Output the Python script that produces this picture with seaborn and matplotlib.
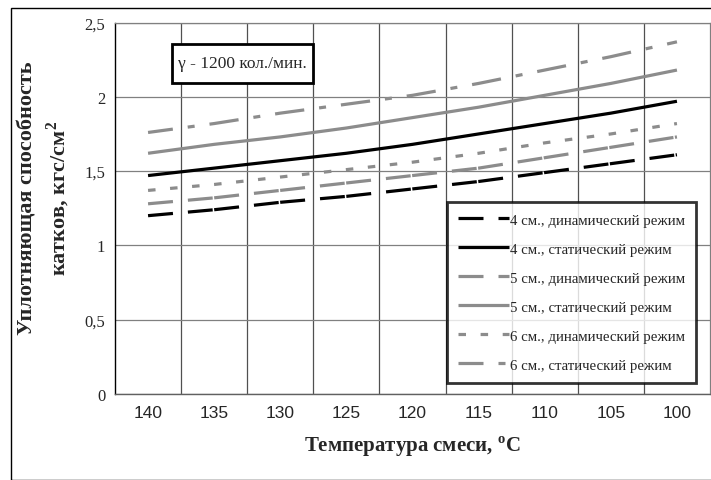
import numpy as np
import pandas as pd
import matplotlib
matplotlib.use("Agg")
import matplotlib.pyplot as plt
import seaborn as sns
from matplotlib.patches import Rectangle
from matplotlib.ticker import FixedLocator

# ---------------- data ----------------
temperature = ["140", "135", "130", "125", "120", "115", "110", "105", "100"]
dyn_4 = [1.20, 1.24, 1.29, 1.33, 1.38, 1.43, 1.49, 1.55, 1.61]
stat_4 = [1.47, 1.52, 1.57, 1.62, 1.68, 1.75, 1.82, 1.89, 1.97]
dyn_5 = [1.28, 1.32, 1.37, 1.42, 1.47, 1.52, 1.59, 1.66, 1.73]
stat_5 = [1.62, 1.68, 1.73, 1.79, 1.86, 1.93, 2.01, 2.09, 2.18]
dyn_6 = [1.37, 1.41, 1.46, 1.51, 1.56, 1.62, 1.69, 1.75, 1.82]
stat_6 = [1.76, 1.82, 1.89, 1.95, 2.01, 2.09, 2.18, 2.27, 2.37]
series_names = [
    "4 см., динамический режим",
    "4 см., статический режим",
    "5 см., динамический режим",
    "5 см., статический режим",
    "6 см., динамический режим",
    "6 см., статический режим",
]
y_ticks = [0, 0.5, 1, 1.5, 2, 2.5]
y_tick_labels = ["0", "0,5", "1", "1,5", "2", "2,5"]
annotation = "γ - 1200 кол./мин."
x_label = r"Температура смеси, $^{\mathbf{o}}$C"
y_label = "Уплотняющая способность\nкатков, кгс/см$^{\\mathbf{2}}$"

values = [dyn_4, stat_4, dyn_5, stat_5, dyn_6, stat_6]
df = pd.DataFrame({
    "T": temperature * len(series_names),
    "v": [v for s in values for v in s],
    "series": [n for n in series_names for _ in temperature],
})

# ---------------- style ----------------
sns.set_style("white")
plt.rcParams["font.family"] = ["Liberation Serif", "DejaVu Serif"]
plt.rcParams["mathtext.fontset"] = "custom"
plt.rcParams["mathtext.rm"] = "Liberation Serif"
plt.rcParams["mathtext.bf"] = "Liberation Serif:bold"
plt.rcParams["lines.scale_dashes"] = False

GRAY = "#8c8c8c"
palette = dict(zip(series_names, ["black", "black", GRAY, GRAY, GRAY, GRAY]))
px = 72 / 100.0  # points per pixel
dashes = {
    series_names[0]: (0, (25 * px, 15 * px, 24.9 * px, 1.5 * px)),
    series_names[1]: "",
    series_names[2]: (0, (25 * px, 15 * px, 24.9 * px, 1.5 * px)),
    series_names[3]: "",
    series_names[4]: (0, (7.5 * px, 14.6 * px)),
    series_names[5]: (4.4 * px, (29.4 * px, 15 * px, 7 * px, 15 * px)),
}

fig = plt.figure(figsize=(7.11, 4.81), dpi=100)
ax = fig.add_axes([115 / 711, 1 - 395 / 481, 595 / 711, 371.5 / 481])

sns.lineplot(data=df, x="T", y="v", hue="series", palette=palette,
             sort=False, legend=False, ax=ax, linewidth=2.3,
             estimator=None)

for line, name in zip(ax.get_lines(), series_names):
    d = dashes[name]
    if d == "":
        line.set_linestyle("-")
    else:
        line.set_linestyle(d)
    line.set_solid_capstyle("butt")
    line.set_dash_capstyle("butt")
    line.set_label(name)

ax.set_xlim(-0.5, len(temperature) - 0.5)
ax.set_ylim(0, 2.5)
ax.set_yticks(y_ticks)
ax.set_yticklabels(y_tick_labels, fontsize=12)
ax.set_xticks(range(len(temperature)))
ax.set_xticklabels(temperature, fontsize=12.5, family="Liberation Sans")
ax.xaxis.set_minor_locator(FixedLocator(np.arange(0.5, len(temperature) - 1, 1.0)))
ax.tick_params(axis="x", which="both", length=0, pad=8)
ax.tick_params(axis="y", which="major", length=5, width=1, color="black",
               direction="out", pad=2)

ax.grid(axis="y", which="major", color="#808080", linewidth=0.9)
ax.grid(axis="x", which="minor", color="#505050", linewidth=0.9)
ax.grid(axis="x", which="major", visible=False)
ax.set_axisbelow(True)

for side in ["top", "right"]:
    ax.spines[side].set_color("#808080")
    ax.spines[side].set_linewidth(0.9)
ax.spines["left"].set_color("black")
ax.spines["left"].set_linewidth(1.0)
ax.spines["bottom"].set_color("#606060")
ax.spines["bottom"].set_linewidth(1.0)

ax.set_xlabel(x_label, fontsize=15, fontweight="bold", labelpad=10)
ax.set_ylabel("")
fig.text(45 / 711, 1 - 198 / 481, y_label, rotation=90, ha="center",
         va="center", fontsize=16, fontweight="bold", multialignment="center",
         linespacing=1.35)

# legend
leg = ax.legend(ax.get_lines(), series_names, loc="upper left",
                bbox_to_anchor=((447 - 115) / 595, (395 - 203) / 371.5),
                frameon=True, fancybox=False, fontsize=10.7,
                handlelength=3.4, handletextpad=0.1, labelspacing=1.05,
                borderpad=0.75, borderaxespad=0)
leg.get_frame().set_edgecolor("black")
leg.get_frame().set_linewidth(2.0)
leg.set_zorder(5)

# annotation box
ax.add_patch(Rectangle(((172 - 115) / 595, (395 - 84) / 371.5),
                       (313 - 172) / 595, (84 - 45) / 371.5,
                       transform=ax.transAxes, facecolor="white",
                       edgecolor="black", linewidth=2.0, zorder=4))
ax.text((242.5 - 115) / 595, (395 - 64.5) / 371.5, annotation,
        transform=ax.transAxes, ha="center", va="center", fontsize=12.5,
        zorder=5)

# outer chart frame
fig.patches.append(Rectangle((11 / 711, 0.5 / 481), 1.0, 1 - 9.5 / 481,
                             transform=fig.transFigure, fill=False,
                             edgecolor="black", linewidth=1.0))

fig.savefig("out.png", dpi=100)
